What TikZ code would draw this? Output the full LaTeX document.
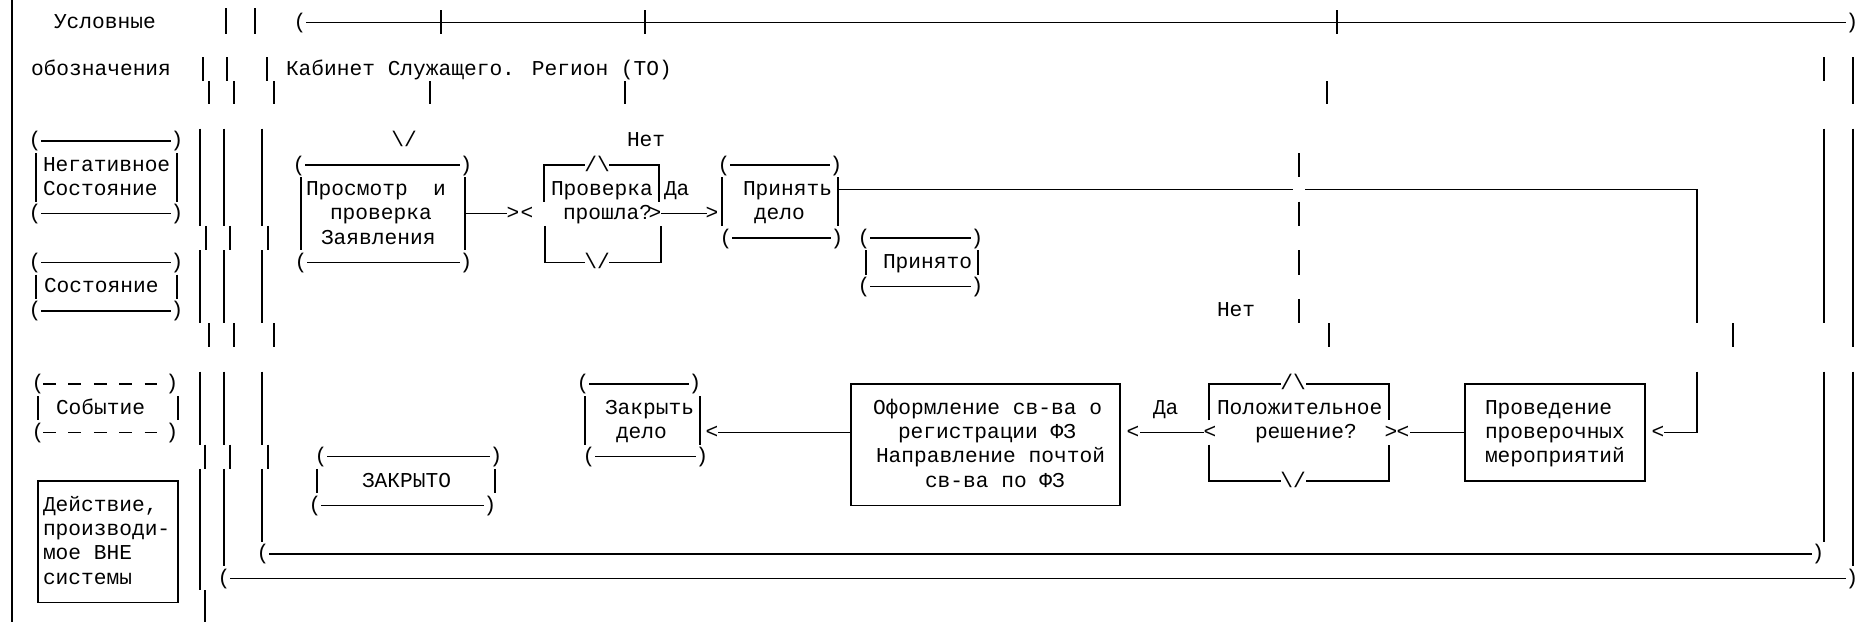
\documentclass[tikz,border=0pt]{standalone}
\usepackage{fontspec}
\newfontfamily\monof{Liberation Mono}
\begin{document}
\begin{tikzpicture}[x=1pt,y=-24.3pt,
  txt/.style={anchor=base west,inner sep=0pt,outer sep=0pt,yshift=-6pt,font=\monof\fontsize{21.2}{24.3}\selectfont},
  gl/.style={anchor=base,inner sep=0pt,outer sep=0pt,yshift=-6pt,font=\monof\fontsize{21.2}{24.3}\selectfont},
  ln/.style={line width=1.4pt,line cap=butt},
  dsh/.style={line width=1.4pt,dash pattern=on 12.7pt off 12.7pt}]
\useasboundingbox[fill=white] (0,-0.798) rectangle (1866,24.798);

% left border
\draw[ln] (12,-0.8) -- (12,24.8);

% legend
\node[txt] (uslov) at (54,0.12) {Условные};
\node[txt] (oboz) at (31,2.08) {обозначения};
% negative state
\node[gl] (n1l) at (35,5) {(}; \node[gl] (n1r) at (177,5) {)};
\draw[ln] (41,5) -- (171,5);
\node[gl] (n2l) at (35,8) {(}; \node[gl] (n2r) at (177,8) {)};
\draw[ln] (41,8) -- (171,8);
\draw[ln] (36,5.5) -- (36,7.5) (177,5.5) -- (177,7.5);
\node[txt] (neg1) at (43,6) {Негативное};
\node[txt] (neg2) at (43,7) {Состояние};
% state
\node[gl] (s1l) at (35,10) {(}; \node[gl] (s1r) at (177,10) {)};
\draw[ln] (41,10) -- (171,10);
\node[gl] (s2l) at (35,12) {(}; \node[gl] (s2r) at (177,12) {)};
\draw[ln] (41,12) -- (171,12);
\draw[ln] (36,10.5) -- (36,11.5) (177,10.5) -- (177,11.5);
\node[txt] (sost) at (44,11) {Состояние};
% event
\node[gl] (e1l) at (38,15) {(}; \node[gl] (e1r) at (172,15) {)};
\draw[dsh] (43,15) -- (157,15);
\node[gl] (e2l) at (38,17) {(}; \node[gl] (e2r) at (172,17) {)};
\draw[dsh] (43,17) -- (157,17);
\draw[ln] (38,15.5) -- (38,16.5) (178,15.5) -- (178,16.5);
\node[txt] (ev) at (56,16) {Событие};
% action outside
\draw[ln] (38,19) rectangle (178,24);
\node[txt] (act1) at (43,20) {Действие,};
\node[txt] (act2) at (43,21) {производи-};
\node[txt] (act3) at (43,22) {мое ВНЕ};
\node[txt] (act4) at (43,23) {системы};

% three vertical bars
\draw[ln] (226,-0.45) -- (226,0.6) (255,-0.45) -- (255,0.6);
\foreach \xa/\xb/\xc/\ya/\yb in {203/227/267/1.55/2.55, 209/234/274/2.55/3.5, 200/224/262/4.5/8.5, 206/230/268/8.5/9.5, 200/224/262/9.5/12.5, 209/234/274/12.5/13.5, 200/224/262/14.5/17.5, 205/230/268/17.5/18.5}
  {\draw[ln] (\xa,\ya) -- (\xa,\yb) (\xb,\ya) -- (\xb,\yb) (\xc,\ya) -- (\xc,\yb);}
\draw[ln] (200,18.5) -- (200,23.5) (224,18.5) -- (224,22.5) (262,18.5) -- (262,21.5);
\draw[ln] (205,23.5) -- (205,24.8);

% top line
\node[gl] (tl) at (300,0.12) {(}; \node[gl] (tr) at (1852,0.12) {)};
\draw[ln] (306,0.12) -- (1846,0.12);
\draw[ln] (441,-0.38) -- (441,0.62) (645,-0.38) -- (645,0.62) (1337,-0.38) -- (1337,0.62);

% title
\node[txt] (title) at (286,2.08) {Кабинет Служащего. Регион (ТО)};

% ticks
\draw[ln] (430,2.55) -- (430,3.5) (625,2.55) -- (625,3.5) (1327,2.55) -- (1327,3.5);
\draw[ln] (1329,12.5) -- (1329,13.5) (1733,12.5) -- (1733,13.5);

% right bars
\draw[ln] (1824,1.55) -- (1824,2.55) (1824,4.5) -- (1824,12.5) (1824,14.5) -- (1824,21.5);
\draw[ln] (1853,1.55) -- (1853,3.5) (1853,4.5) -- (1853,13.5) (1853,14.5) -- (1853,22.5);

% row 5
\node[gl] (inarr) at (404,5) {\textbackslash/};
\node[txt] (net1) at (627,5) {Нет};

% Prosmotr box
\node[gl] (p1l) at (299,6) {(}; \node[gl] (p1r) at (466,6) {)};
\draw[ln] (305,6) -- (460,6);
\node[gl] (p2l) at (301,10) {(}; \node[gl] (p2r) at (466,10) {)};
\draw[ln] (307,10) -- (460,10);
\draw[ln] (301,6.5) -- (301,9.5) (465,6.5) -- (465,9.5);
\node[txt] (pr1) at (306,7) {Просмотр\ \ и};
\node[txt] (pr2) at (330,8) {проверка};
\node[txt] (pr3) at (321,9) {Заявления};
\draw[ln] (465,8) -- (507,8);
\node[gl] (g1) at (513,8) {>};
\node[gl] (g2) at (527,8) {<};

% decision 1
\draw[ln] (544,7.5) -- (544,6) -- (585,6);
\node[gl] (d1t) at (597,6) {/\textbackslash};
\draw[ln] (609,6) -- (659,6) -- (659,7.5);
\draw[ln] (545,8.5) -- (545,10) -- (585,10);
\node[gl] (d1b) at (597,10) {\textbackslash/};
\draw[ln] (609,10) -- (661,10) -- (661,8.5);
\node[txt] (d1a) at (551,7) {Проверка};
\node[txt] (d1c) at (563,8) {прошла?};
\node[gl] (g3) at (655,8) {>};
\node[txt] (da1) at (664,7) {Да};
\draw[ln] (661,8) -- (707,8);
\node[gl] (g4) at (712,8) {>};

% Prinyat box
\node[gl] (a1l) at (724,6) {(}; \node[gl] (a1r) at (836,6) {)};
\draw[ln] (730,6) -- (830,6);
\node[gl] (a2l) at (726,9) {(}; \node[gl] (a2r) at (837,9) {)};
\draw[ln] (732,9) -- (831,9);
\draw[ln] (722,6.5) -- (722,8.5) (838,6.5) -- (838,8.5);
\node[txt] (pn1) at (743,7) {Принять};
\node[txt] (pn2) at (754,8) {дело};

% long connector
\draw[ln] (838,7) -- (1293,7);
\draw[ln] (1305,7) -- (1697,7) -- (1697,12.5);
\foreach \r in {6,8,10,12} {\draw[ln] (1299,{\r-0.5}) -- (1299,{\r+0.5});}
\node[txt] (net2) at (1217,12) {Нет};

% Prinyato
\node[gl] (b1l) at (864,9) {(}; \node[gl] (b1r) at (977,9) {)};
\draw[ln] (870,9) -- (971,9);
\node[gl] (b2l) at (864,11) {(}; \node[gl] (b2r) at (977,11) {)};
\draw[ln] (870,11) -- (971,11);
\draw[ln] (866,9.5) -- (866,10.5) (978,9.5) -- (978,10.5);
\node[txt] (pno) at (883,10) {Принято};

% lower right connector
\draw[ln] (1697,14.5) -- (1697,17) -- (1664,17);
\node[gl] (g5) at (1658,17) {<};

% Provedenie
\draw[ln] (1465,15) rectangle (1645,19);
\node[txt] (pv1) at (1485,16) {Проведение};
\node[txt] (pv2) at (1485,17) {проверочных};
\node[txt] (pv3) at (1485,18) {мероприятий};
\draw[ln] (1410,17) -- (1465,17);
\node[gl] (g6) at (1403,17) {<};
\node[gl] (g7) at (1391,17) {>};

% decision 2
\draw[ln] (1209,16.5) -- (1209,15) -- (1281,15);
\node[gl] (d2t) at (1293,15) {/\textbackslash};
\draw[ln] (1306,15) -- (1389,15) -- (1389,16.5);
\draw[ln] (1209,17.5) -- (1209,19) -- (1281,19);
\node[gl] (d2b) at (1293,19) {\textbackslash/};
\draw[ln] (1306,19) -- (1389,19) -- (1389,17.5);
\node[txt] (d2a) at (1217,16) {Положительное};
\node[txt] (d2c) at (1255,17) {решение?};
\node[gl] (g8) at (1210,17) {<};
\draw[ln] (1140,17) -- (1204,17);
\node[gl] (g9) at (1133,17) {<};
\node[txt] (da2) at (1153,16) {Да};

% Oformlenie
\draw[ln] (851,15) rectangle (1120,20);
\node[txt] (of1) at (873,16) {Оформление св-ва о};
\node[txt] (of2) at (898,17) {регистрации ФЗ};
\node[txt] (of3) at (876,18) {Направление почтой};
\node[txt] (of4) at (925,19) {св-ва по ФЗ};
\draw[ln] (718,17) -- (851,17);
\node[gl] (g10) at (712,17) {<};

% Zakryt delo
\node[gl] (c1l) at (583,15) {(}; \node[gl] (c1r) at (695,15) {)};
\draw[ln] (589,15) -- (689,15);
\node[gl] (c2l) at (589,18) {(}; \node[gl] (c2r) at (702,18) {)};
\draw[ln] (595,18) -- (696,18);
\draw[ln] (585,15.5) -- (585,17.5) (700,15.5) -- (700,17.5);
\node[txt] (zk1) at (605,16) {Закрыть};
\node[txt] (zk2) at (616,17) {дело};

% ZAKRYTO
\node[gl] (z1l) at (321,18) {(}; \node[gl] (z1r) at (496,18) {)};
\draw[ln] (327,18) -- (490,18);
\node[gl] (z2l) at (315,20) {(}; \node[gl] (z2r) at (490,20) {)};
\draw[ln] (321,20) -- (484,20);
\draw[ln] (317,18.5) -- (317,19.5) (495,18.5) -- (495,19.5);
\node[txt] (zkt) at (362,19) {ЗАКРЫТО};

% bottom lines
\node[gl] (l1l) at (263,22) {(}; \node[gl] (l1r) at (1818,22) {)};
\draw[ln] (269,22) -- (1812,22);
\node[gl] (l2l) at (224,23) {(}; \node[gl] (l2r) at (1852,23) {)};
\draw[ln] (230,23) -- (1846,23);
\end{tikzpicture}
\end{document}
